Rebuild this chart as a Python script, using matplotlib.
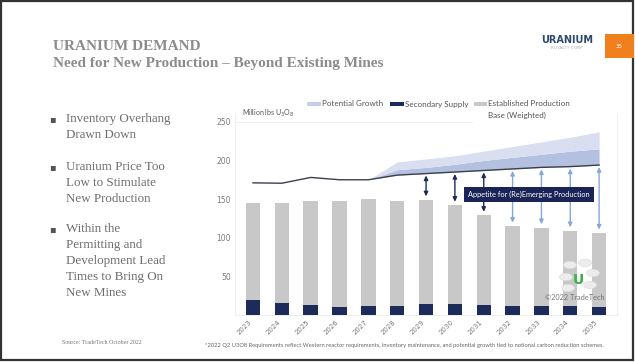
import matplotlib
matplotlib.use("Agg")
import matplotlib.pyplot as plt
from matplotlib.patches import Rectangle, Circle
import numpy as np

years = ["2023", "2024", "2025", "2026", "2027", "2028", "2029", "2030",
         "2031", "2032", "2033", "2034", "2035"]
secondary = [20, 16, 13, 10, 12, 12, 14, 14, 13, 12, 12, 12, 11]
established = [125, 129, 135, 137, 138, 136, 135, 128, 116, 103, 101, 97, 95]
demand = [171, 170.5, 178, 175, 175, 181, 183, 185, 187, 189, 191, 192, 194]
growth_mid = [None, None, None, None, 175, 188, 191, 195, 200, 204, 208, 212, 215]
growth_top = [None, None, None, None, 175, 198, 202, 206, 212, 218, 224, 230, 237]
arrow_years = ["2029", "2030", "2031", "2032", "2033", "2034", "2035"]
yticks = [50, 100, 150, 200, 250]

W, H = 636, 362
fig = plt.figure(figsize=(W / 100, H / 100), dpi=100)
fig.patch.set_facecolor("white")

def fx(px):
    return px / W

def fy(py):
    return 1 - py / H

# slide border
fig.patches.append(Rectangle((0.002, 0.006), 0.994, 0.99, transform=fig.transFigure,
                             fill=False, edgecolor="#333333", linewidth=1.6))

# title
serif = "Liberation Serif"
fig.text(fx(53), fy(47), "URANIUM DEMAND", fontsize=11, fontweight="bold",
         family=serif, color="#8c8c8c", va="center", ha="left")
fig.text(fx(53), fy(64), "Need for New Production \u2013 Beyond Existing Mines", fontsize=11,
         fontweight="bold", family=serif, color="#8c8c8c", va="center", ha="left")

# logo
fig.text(fx(567), fy(40), "URANIUM", fontsize=7, fontweight="bold", family="DejaVu Sans",
         color="#2c4a6e", ha="center", va="center")
fig.text(fx(567), fy(48), "ROYALTY CORP", fontsize=3.2, family="DejaVu Sans",
         color="#b0b0b0", ha="center", va="center")
fig.patches.append(Rectangle((fx(605), fy(58)), fx(29), (58 - 34) / H, transform=fig.transFigure,
                             facecolor="#f07f1e", edgecolor="none"))
fig.text(fx(619), fy(46), "35", fontsize=4, color="white", ha="center", va="center")

# bullets
bullets = [(119, ["Inventory Overhang", "Drawn Down"]),
           (166.7, ["Uranium Price Too", "Low to Stimulate", "New Production"]),
           (229.3, ["Within the", "Permitting and", "Development Lead",
                    "Times to Bring On", "New Mines"])]
for ytop, lines in bullets:
    fig.text(fx(52.5), fy(ytop), "\u25aa", fontsize=7, color="#555555", ha="center", va="center",
             family="DejaVu Sans")
    for k, ln in enumerate(lines):
        fig.text(fx(65.5), fy(ytop + k * 15.9), ln, fontsize=9.4, family=serif,
                 color="#6e6e6e", ha="left", va="center")

fig.text(fx(62), fy(342), "Source: TradeTech October 2022", fontsize=4.3, family=serif,
         color="#777777", ha="left", va="center")
fig.text(fx(205), fy(345), "*2022 Q2 U3O8 Requirements reflect Western reactor requirements, inventory "
         "maintenance, and potential growth tied to notional carbon reduction schemes.",
         fontsize=4.15, family="Lato", color="#666666", ha="left", va="center")

# chart axes
ax = fig.add_axes([0.3697, 0.1298, 0.6004, 0.5594])
x = np.arange(len(years))
sec = np.array(secondary, dtype=float)
est = np.array(established, dtype=float)
dem = np.array(demand, dtype=float)
total = sec + est

ax.bar(x, sec, width=0.5, color="#1c2b5a", zorder=2)
ax.bar(x, est, bottom=sec, width=0.5, color="#c8c8c8", zorder=2)

gi = [i for i, v in enumerate(growth_top) if v is not None]
gx = x[gi]
gmid = np.array([growth_mid[i] for i in gi], dtype=float)
gtop = np.array([growth_top[i] for i in gi], dtype=float)
gdem = dem[gi]
ax.fill_between(gx, gdem, gmid, color="#b4c0df", linewidth=0, zorder=3)
ax.fill_between(gx, gmid, gtop, color="#d9dff0", linewidth=0, zorder=3)
ax.plot(x, dem, color="#3a3f4a", linewidth=1.0, zorder=4)

for yr in arrow_years:
    i = years.index(yr)
    col = "#1c2b5a" if i <= 8 else "#86a8d8"
    ax.annotate("", xy=(i, total[i] + 4.5), xytext=(i, dem[i] - 2.5),
                arrowprops=dict(arrowstyle="<|-|>,head_length=0.25,head_width=0.12",
                                color=col, lw=1.0, shrinkA=0, shrinkB=0), zorder=5)

ax.text(9.58, 156, "Appetite for (Re)Emerging Production", fontsize=5.3, family="Lato",
        color="white", ha="center", va="center", zorder=7,
        bbox=dict(boxstyle="square,pad=0.55", facecolor="#1a2456", edgecolor="none"))

ax.set_xlim(-0.62, 12.62)
ax.set_ylim(0, 262)
ax.set_yticks(yticks)
ax.set_yticklabels([str(v) for v in yticks], fontsize=5.5, color="#7a7a7a")
ax.set_xticks(x)
ax.set_xticklabels(years, rotation=45, ha="right", fontsize=5, color="#7a7a7a")
ax.tick_params(axis="both", length=0, pad=3)
for s in ax.spines.values():
    s.set_color("#ececec")
    s.set_linewidth(0.6)
ax.spines["top"].set_visible(False)
ax.axhline(250, color="#ececec", linewidth=0.6, xmax=0.62, zorder=1)

fig.text(fx(242), fy(113), "Million lbs U$_3$O$_8$", fontsize=5, family="Lato",
         color="#555555", ha="left", va="center")

# legend
leg = [(307, 321, "Potential Growth", "#c5cfe8"),
       (390.5, 404, "Secondary Supply", "#1c2b5a"),
       (474, 487, "Established Production", "#c8c8c8")]
for x0, x1, lab, c in leg:
    fig.patches.append(Rectangle((fx(x0), fy(105.5)), fx(x1 - x0), 3.5 / H,
                                 transform=fig.transFigure, facecolor=c, edgecolor="none"))
    fig.text(fx(x1 + 0.5), fy(104), lab, fontsize=5.8, family="Lato", color="#555555",
             ha="left", va="center")
fig.text(fx(487.5), fy(115), "Base (Weighted)", fontsize=5.8, family="Lato", color="#555555",
         ha="left", va="center")

# TradeTech logo
for cx, cy in [(570, 265), (585, 263), (593, 273), (590, 285), (566, 277), (568, 288)]:
    fig.patches.append(Circle((fx(cx), fy(cy)), 6.5 / W, transform=fig.transFigure,
                              facecolor="#ececec", edgecolor="#dadada", linewidth=0.4))
fig.text(fx(578), fy(280), "U", fontsize=10, fontweight="bold", color="#3cb34a",
         ha="center", va="center", family="DejaVu Sans")
fig.text(fx(575), fy(297), "\u00a92022 TradeTech", fontsize=5.3, family="Lato",
         color="#777777", ha="center", va="center")

fig.savefig("out.png", dpi=100)
